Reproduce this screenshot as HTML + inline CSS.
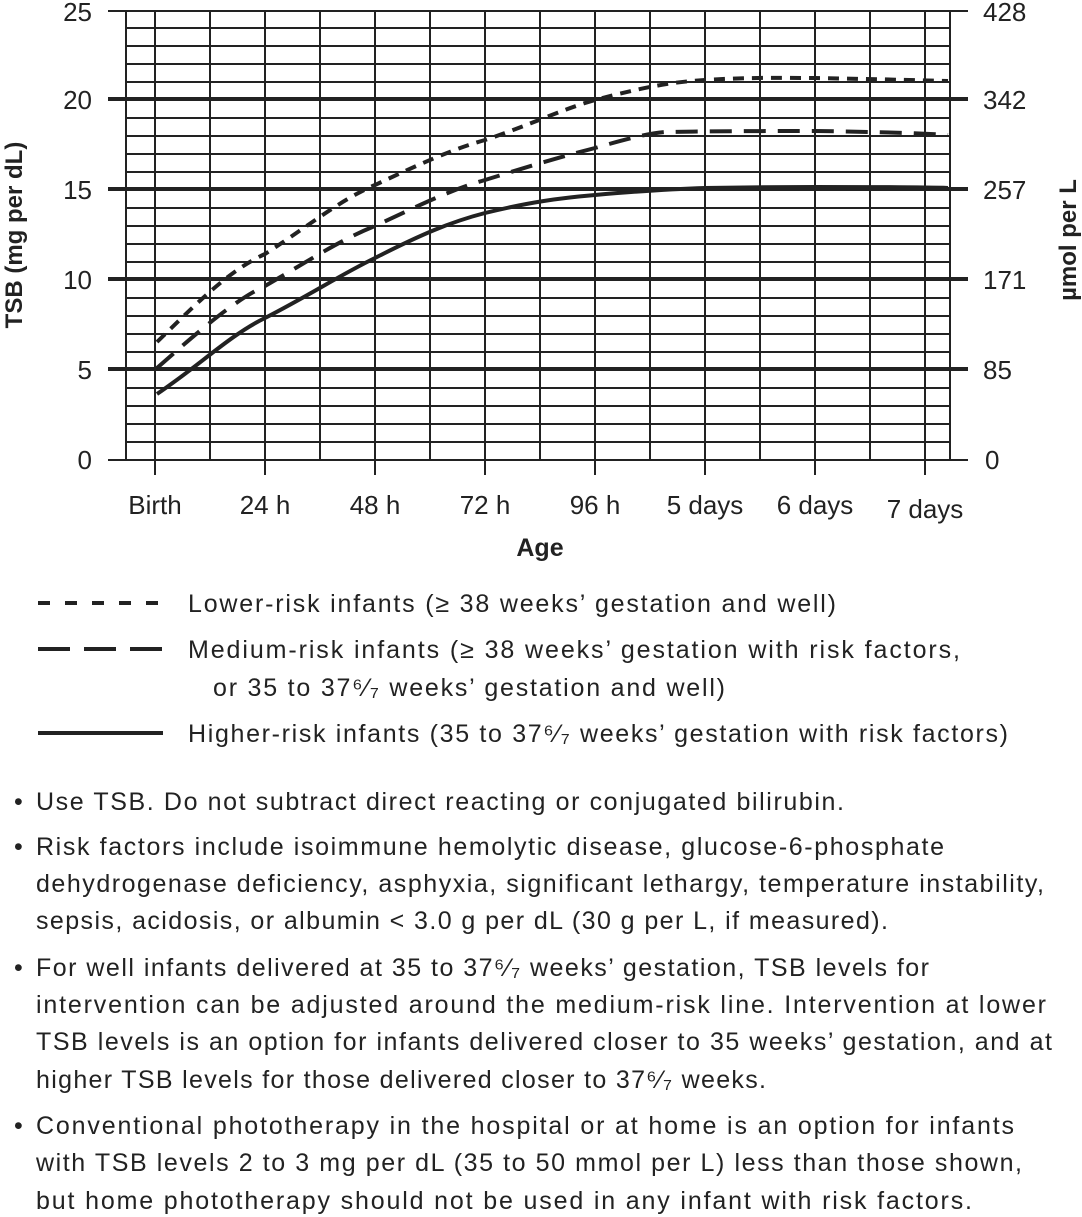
<!DOCTYPE html>
<html><head><meta charset="utf-8"><style>
html,body{margin:0;padding:0;background:#fff;}
svg{display:block;}
text{font-family:"Liberation Sans",sans-serif;fill:#222;}
</style></head><body>
<svg width="1082" height="1217" viewBox="0 0 1082 1217" xmlns="http://www.w3.org/2000/svg">
<g stroke="#222" stroke-width="2" fill="none">
<path d="M126 28H950M126 46H950M126 64H950M126 82H950
M126 118H950M126 136H950M126 154H950M126 172H950
M126 208H950M126 226H950M126 244H950M126 262H950
M126 298H950M126 316H950M126 334H950M126 352H950
M126 388H950M126 406H950M126 424H950M126 442H950"/>
<path d="M126 11V460M950 11V460
M155 11V460M210 11V460M265 11V475M320 11V460M375 11V475M430 11V460M485 11V475M540 11V460M595 11V475M650 11V460M705 11V475M760 11V460M815 11V475M870 11V460M925 11V475M155 460V475"/>
<path d="M108 11H968M108 460H968"/>
</g>
<g stroke="#222" stroke-width="4" fill="none">
<path d="M108 99H968M108 189H968M108 279H968M108 369H968"/>
</g>
<g fill="none" stroke="#222" stroke-width="4">
<path stroke-dasharray="11 8" d="M157 342 C200 300 230 270 265 254 C310 225 340 200 375 185 C420 164 450 150 485 140 C530 125 560 110 595 100 C640 88 670 82 705 80 C750 77 790 78 815 78 C870 79 910 80 948 81"/>
<path stroke-dasharray="22 12" d="M157 368 C200 330 235 300 265 286 C310 260 340 240 375 226 C420 205 450 190 485 180 C530 166 560 157 595 148 C630 138 650 133 665 132 C720 131 780 131 815 131 C880 132 920 133 948 135"/>
<path d="M157 394 C200 365 230 335 265 318 C310 295 340 275 375 258 C420 235 450 222 485 213 C530 202 560 198 595 195 C640 191 670 189 705 188 C760 187 790 187 815 187 C880 187 920 187 948 188"/>
</g>
<g font-size="26" text-anchor="end">
<text x="92" y="21">25</text><text x="92" y="109">20</text><text x="92" y="199">15</text><text x="92" y="289">10</text><text x="92" y="379">5</text><text x="92" y="469">0</text>
</g>
<g font-size="26">
<text x="983" y="21">428</text><text x="983" y="109">342</text><text x="983" y="199">257</text><text x="983" y="289">171</text><text x="983" y="379">85</text><text x="985" y="469">0</text>
</g>
<g font-size="26" text-anchor="middle">
<text x="155" y="514">Birth</text><text x="265" y="514">24 h</text><text x="375" y="514">48 h</text><text x="485" y="514">72 h</text><text x="595" y="514">96 h</text><text x="705" y="514">5 days</text><text x="815" y="514">6 days</text><text x="925" y="518">7 days</text>
</g>
<text x="540" y="556" font-size="25" font-weight="bold" text-anchor="middle">Age</text>
<text transform="translate(22 235) rotate(-90)" font-size="24" font-weight="bold" text-anchor="middle">TSB (mg per dL)</text>
<text transform="translate(1076 240) rotate(-90)" font-size="24" font-weight="bold" text-anchor="middle">µmol per L</text>
<g stroke="#222" stroke-width="4">
<path stroke-dasharray="12 15" d="M38 603H163"/>
<path stroke-dasharray="32 14" d="M38 649H163"/>
<path d="M38 733H163"/>
</g>
<g font-size="25">
<text x="188" y="612" textLength="648">Lower-risk infants (≥ 38 weeks’ gestation and well)</text>
<text x="188" y="658" textLength="772">Medium-risk infants (≥ 38 weeks’ gestation with risk factors,</text>
<text x="213" y="696" textLength="512">or 35 to 37⁶⁄₇ weeks’ gestation and well)</text>
<text x="188" y="742" textLength="820">Higher-risk infants (35 to 37⁶⁄₇ weeks’ gestation with risk factors)</text>
</g>
<g font-size="25">
<text x="14" y="810">•</text><text x="36" y="810" textLength="808">Use TSB. Do not subtract direct reacting or conjugated bilirubin.</text>
<text x="14" y="855">•</text><text x="36" y="855" textLength="908">Risk factors include isoimmune hemolytic disease, glucose-6-phosphate</text>
<text x="36" y="892" textLength="1008">dehydrogenase deficiency, asphyxia, significant lethargy, temperature instability,</text>
<text x="36" y="929" textLength="852">sepsis, acidosis, or albumin &lt; 3.0 g per dL (30 g per L, if measured).</text>
<text x="14" y="976">•</text><text x="36" y="976" textLength="893">For well infants delivered at 35 to 37⁶⁄₇ weeks’ gestation, TSB levels for</text>
<text x="36" y="1013" textLength="1010">intervention can be adjusted around the medium-risk line. Intervention at lower</text>
<text x="36" y="1050" textLength="1016">TSB levels is an option for infants delivered closer to 35 weeks’ gestation, and at</text>
<text x="36" y="1088" textLength="730">higher TSB levels for those delivered closer to 37⁶⁄₇ weeks.</text>
<text x="14" y="1134">•</text><text x="36" y="1134" textLength="978">Conventional phototherapy in the hospital or at home is an option for infants</text>
<text x="36" y="1171" textLength="986">with TSB levels 2 to 3 mg per dL (35 to 50 mmol per L) less than those shown,</text>
<text x="36" y="1209" textLength="936">but home phototherapy should not be used in any infant with risk factors.</text>
</g>
</svg>
</body></html>
